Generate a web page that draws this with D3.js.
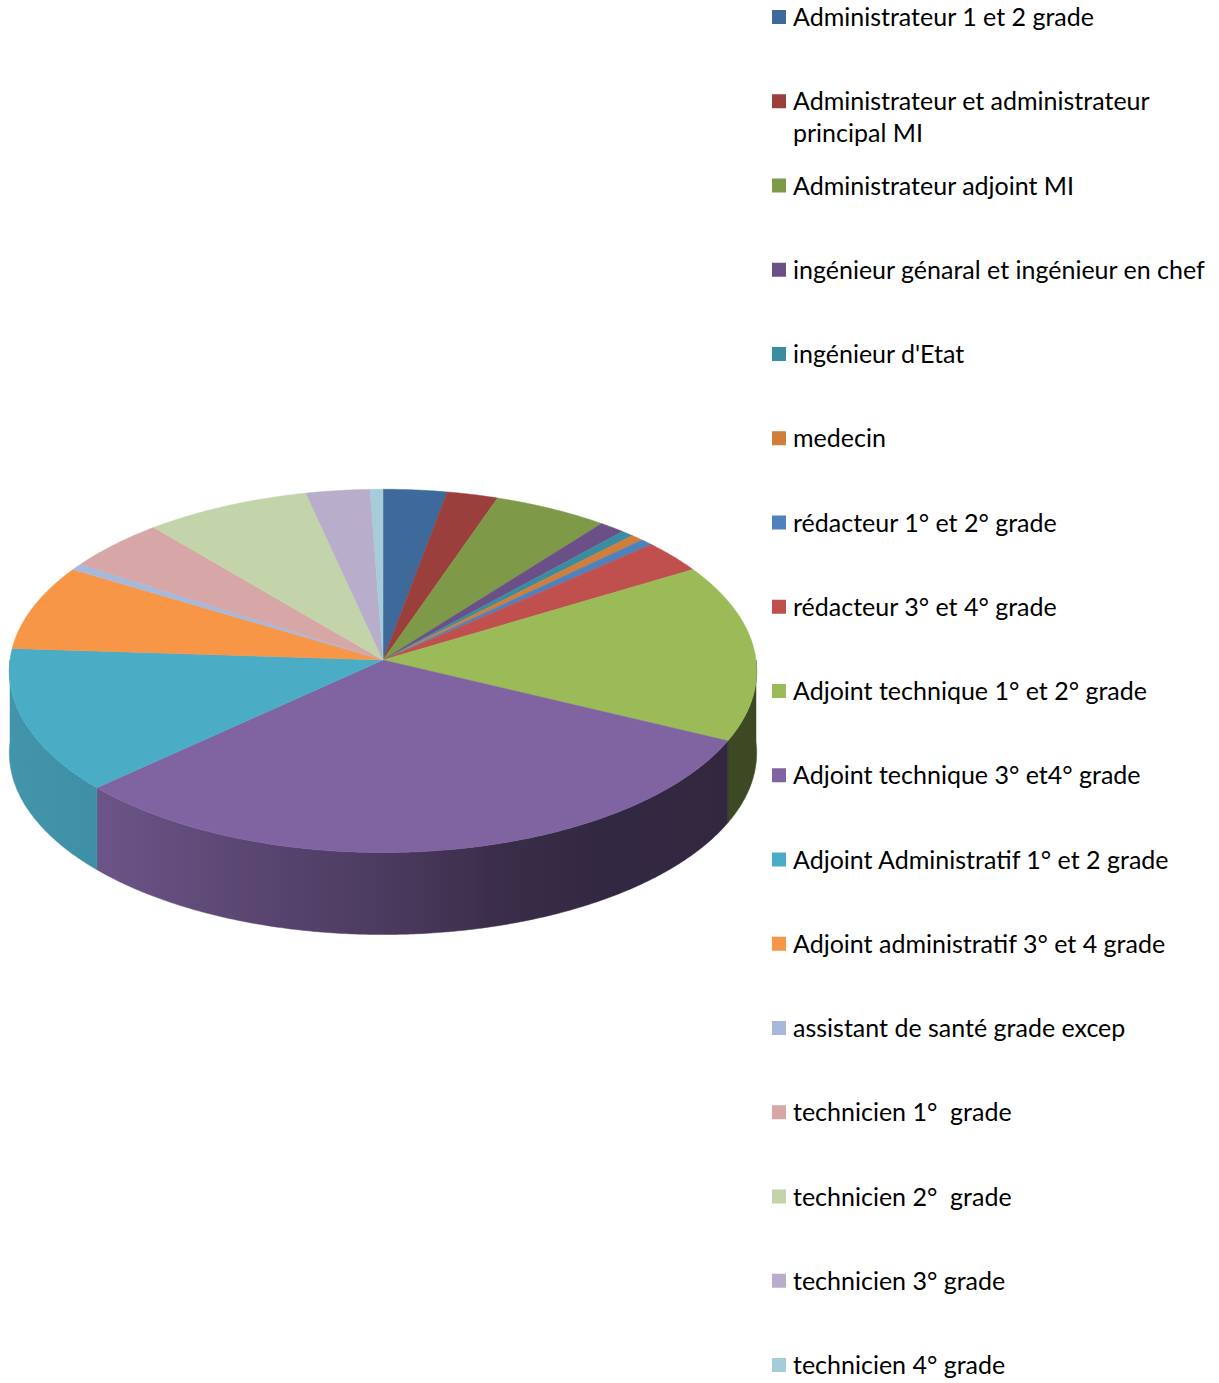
<!DOCTYPE html>
<html>
<head>
<meta charset="utf-8">
<script src="https://cdn.jsdelivr.net/npm/d3@7"></script>
<style>
  body { margin: 0; background: #fff; }
  svg { display: block; }
</style>
</head>
<body>
<svg id="chart"></svg>
<script>
const categories = [
  'Administrateur 1 et 2 grade',
  'Administrateur et administrateur principal MI',
  'Administrateur adjoint MI',
  'ingénieur génaral et ingénieur en chef',
  "ingénieur d'Etat",
  'medecin',
  'rédacteur 1° et 2° grade',
  'rédacteur 3° et 4° grade',
  'Adjoint technique 1° et 2° grade',
  'Adjoint technique 3° et4° grade',
  'Adjoint Administratif 1° et 2 grade',
  'Adjoint administratif 3° et 4 grade',
  'assistant de santé grade excep',
  'technicien 1°  grade',
  'technicien 2°  grade',
  'technicien 3° grade',
  'technicien 4° grade'
];
const counts = [5, 4, 9, 2, 1, 1, 1, 5, 27, 53, 22, 13, 1, 8, 13, 5, 1];
const colors = [
  '#3d6a9b', '#9b3f3d', '#7e9a48', '#6a5086', '#3a8ca1', '#d07e39',
  '#4f81bd', '#c0504d', '#9bbb59', '#8064a2', '#4bacc6', '#f79646',
  '#a7b9da', '#d6a7a6', '#c4d4aa', '#b8aecb', '#a6ccda'
];

(() => {
  const width = 1219;
  const height = 1383;
  const cx = 383, cy = 660, rx = 373, ry = 181, persp = 0.06, depth = 82;

  const svg = d3.select('svg#chart')
    .attr('width', width)
    .attr('height', height);

  const data = categories.map((name, i) => ({ name, count: counts[i], color: colors[i] }));
  const arcs = d3.pie().sort(null).value(d => d.count)(data);

  // tilted disc with a bit of perspective (near edge looks bigger)
  const project = (a, r = 1) => {
    const u = Math.sin(a) * r;
    const v = -Math.cos(a) * r;
    const s = 1 / (1 - persp * v);
    return [cx + rx * u * s, cy + ry * v * s];
  };
  const rim = (a0, a1) => {
    const n = Math.max(2, Math.ceil((a1 - a0) / (Math.PI / 360)));
    return d3.range(n + 1).map(i => project(a0 + (a1 - a0) * i / n));
  };

  // side shading, lighter on the left
  const shade = d3.scaleLinear()
    .domain([10, 100, 250, 383, 500, 600, 757])
    .range([0.86, 0.84, 0.7, 0.59, 0.45, 0.4, 0.39]);

  const defs = svg.append('defs');
  arcs.forEach((d, i) => {
    const g = defs.append('linearGradient')
      .attr('id', `side-${i}`)
      .attr('gradientUnits', 'userSpaceOnUse')
      .attr('x1', cx - rx).attr('x2', cx + rx)
      .attr('y1', 0).attr('y2', 0);
    const base = d3.rgb(d.data.color);
    shade.domain().forEach(x => {
      const f = shade(x);
      g.append('stop')
        .attr('offset', (x - (cx - rx)) / (2 * rx))
        .attr('stop-color', d3.rgb(base.r * f, base.g * f, base.b * f));
    });
  });

  const line = d3.line();

  // front wall
  svg.append('g')
    .selectAll('path')
    .data(arcs.filter(d => d.endAngle > Math.PI / 2 && d.startAngle < Math.PI * 1.5))
    .enter()
    .append('path')
      .attr('d', d => {
        const a0 = Math.max(d.startAngle, Math.PI / 2);
        const a1 = Math.min(d.endAngle, Math.PI * 1.5);
        const top = rim(a0, a1);
        const bottom = top.map(p => [p[0], p[1] + depth]).reverse();
        return line(top.concat(bottom)) + 'Z';
      })
      .attr('fill', d => `url(#side-${d.index})`)
      .attr('stroke', d => `url(#side-${d.index})`)
      .attr('stroke-width', 0.5);

  // top face
  svg.append('g')
    .selectAll('path')
    .data(arcs)
    .enter()
    .append('path')
      .attr('d', d => line([[cx, cy]].concat(rim(d.startAngle, d.endAngle))) + 'Z')
      .attr('fill', d => d.data.color)
      .attr('stroke', d => d.data.color)
      .attr('stroke-width', 0.5)
      .attr('stroke-linejoin', 'round');

  // legend
  const fontFamily = 'Lato, "Open Sans", sans-serif';
  const probe = svg.append('text')
    .style('font-family', fontFamily)
    .style('font-size', '100px')
    .text('ingénieur génaral et ingénieur en chef');
  const fontSize = 100 * 412 / probe.node().getComputedTextLength();
  probe.remove();

  const yScale = d3.scalePoint()
    .domain(categories)
    .range([17, 1365]);

  const legend = svg.append('g')
    .selectAll('g')
    .data(data)
    .enter()
    .append('g')
      .attr('transform', d => `translate(772,${yScale(d.name)})`);

  legend.append('rect')
    .attr('x', 0)
    .attr('y', -7)
    .attr('width', 14)
    .attr('height', 14)
    .attr('fill', d => d.color);

  const maxWidth = 420;
  legend.append('text')
    .attr('x', 21)
    .attr('y', 0)
    .style('font-family', fontFamily)
    .style('font-size', fontSize + 'px')
    .style('white-space', 'pre')
    .attr('fill', '#000')
    .each(function (d) {
      const text = d3.select(this);
      const words = d.name.split(' ');
      let tspan = text.append('tspan').attr('x', 21).attr('dy', '0.36em');
      let current = [];
      words.forEach(w => {
        current.push(w);
        tspan.text(current.join(' '));
        if (tspan.node().getComputedTextLength() > maxWidth && current.length > 1) {
          current.pop();
          tspan.text(current.join(' '));
          current = [w];
          tspan = text.append('tspan').attr('x', 21).attr('dy', 32).text(w);
        }
      });
    });
})();
</script>
</body>
</html>
